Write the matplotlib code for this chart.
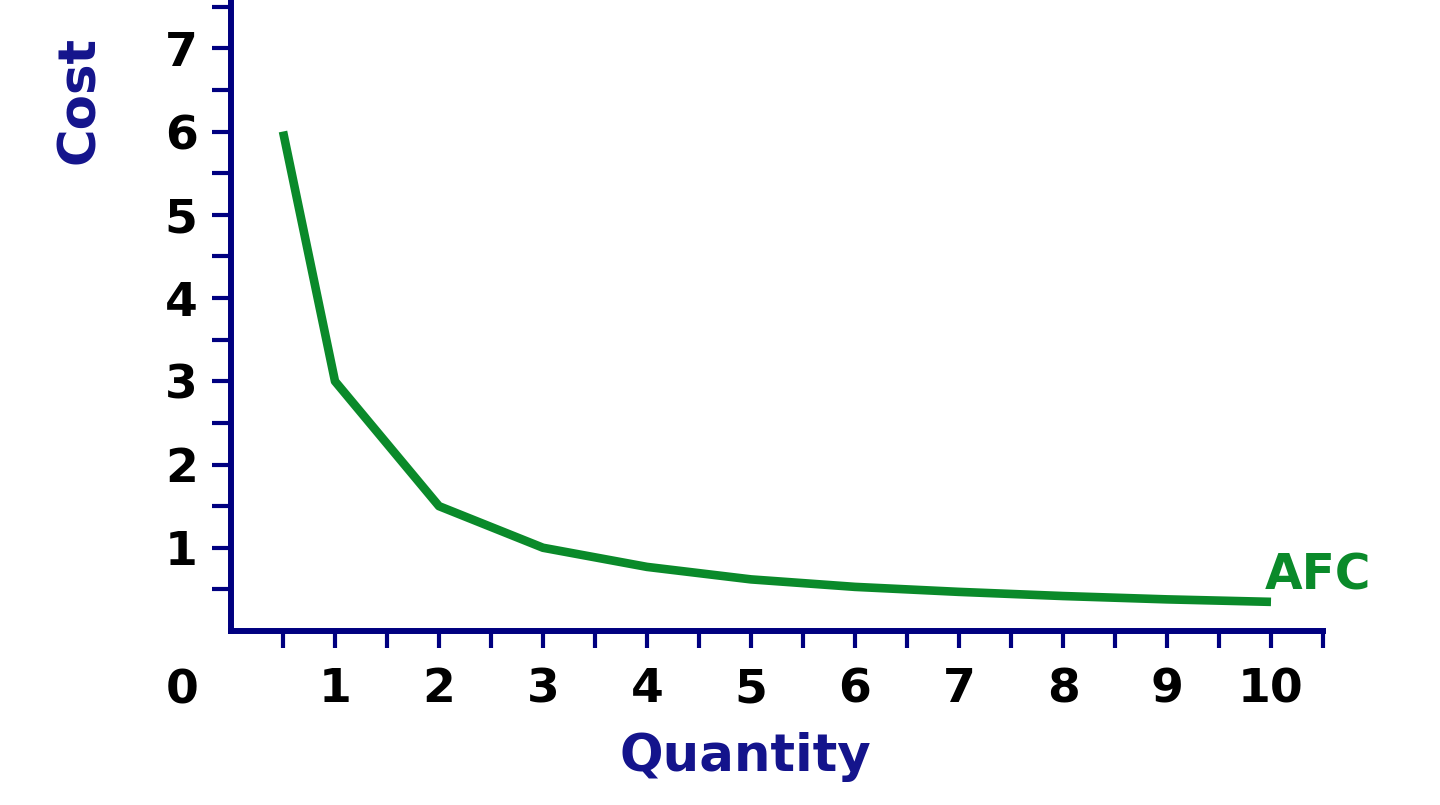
import matplotlib.pyplot as plt
from matplotlib.ticker import FixedLocator

# values
quantity = [0.5, 1, 2, 3, 4, 5, 6, 7, 8, 9, 10]
afc = [6.0, 3.0, 1.5, 1.0, 0.77, 0.62, 0.53, 0.47, 0.42, 0.38, 0.35]

x_major = [1, 2, 3, 4, 5, 6, 7, 8, 9, 10]
x_minor = [0.5, 1.5, 2.5, 3.5, 4.5, 5.5, 6.5, 7.5, 8.5, 9.5, 10.5]
y_major = [1, 2, 3, 4, 5, 6, 7]
y_minor = [0.5, 1.5, 2.5, 3.5, 4.5, 5.5, 6.5, 7.5]

navy = '#000080'
label_blue = '#14148c'
green = '#0a8a2a'

fig = plt.figure(figsize=(14.4, 8.05), dpi=100)
ax = fig.add_axes([231 / 1440, 174 / 805, 1092 / 1440, 631 / 805])

ax.plot(quantity, afc, color=green, lw=6.2, solid_capstyle='butt', clip_on=False)

ax.set_xlim(0, 10.5)
ax.set_ylim(0, 7.58)

for side in ['top', 'right']:
    ax.spines[side].set_visible(False)
for side in ['left', 'bottom']:
    ax.spines[side].set_color(navy)
    ax.spines[side].set_linewidth(4.3)
    ax.spines[side].set_capstyle('projecting')

ax.xaxis.set_major_locator(FixedLocator(x_major))
ax.xaxis.set_minor_locator(FixedLocator(x_minor))
ax.yaxis.set_major_locator(FixedLocator(y_major))
ax.yaxis.set_minor_locator(FixedLocator(y_minor))
ax.xaxis.remove_overlapping_locs = False
ax.yaxis.remove_overlapping_locs = False

ax.tick_params(axis='both', which='both', direction='out', color=navy, width=3)
ax.tick_params(axis='x', which='both', length=12)
ax.tick_params(axis='y', which='both', length=14)
ax.tick_params(axis='x', which='major', labelsize=34, pad=14, labelcolor='black')
ax.tick_params(axis='y', which='major', labelsize=34, pad=10, labelcolor='black')
for lab in ax.get_xticklabels() + ax.get_yticklabels():
    lab.set_fontweight('bold')

ax.text(-0.47, -0.72, '0', ha='center', va='center', fontsize=34,
        fontweight='bold', color='black', clip_on=False)
ax.text(-1.45, 6.38, 'Cost', rotation=90, ha='center', va='center',
        fontsize=37, fontweight='bold', color=label_blue, clip_on=False)
ax.text(4.95, -1.51, 'Quantity', ha='center', va='center',
        fontsize=37, fontweight='bold', color=label_blue, clip_on=False)
ax.text(9.94, 0.67, 'AFC', ha='left', va='center',
        fontsize=35, fontweight='bold', color=green, clip_on=False)

fig.savefig('out.png', dpi=100)
